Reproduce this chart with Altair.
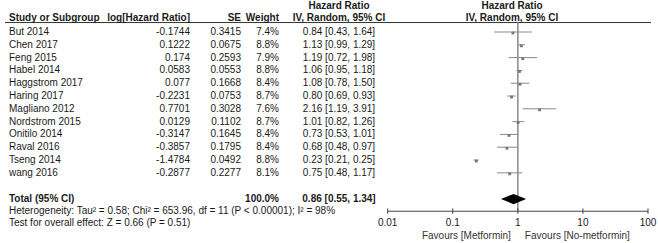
import altair as alt
import pandas as pd

studies = ["But 2014", "Chen 2017", "Feng 2015", "Habel 2014", "Haggstrom 2017",
           "Haring 2017", "Magliano 2012", "Nordstrom 2015", "Onitilo 2014",
           "Raval 2016", "Tseng 2014", "wang 2016"]
log_hr = ["-0.1744", "0.1222", "0.174", "0.0583", "0.077", "-0.2231", "0.7701",
          "0.0129", "-0.3147", "-0.3857", "-1.4784", "-0.2877"]
se = ["0.3415", "0.0675", "0.2593", "0.0553", "0.1668", "0.0753", "0.3028",
      "0.1102", "0.1645", "0.1795", "0.0492", "0.2277"]
weight = ["7.4%", "8.8%", "7.9%", "8.8%", "8.4%", "8.7%", "7.6%", "8.7%",
          "8.4%", "8.4%", "8.8%", "8.1%"]
hr = [0.84, 1.13, 1.19, 1.06, 1.08, 0.80, 2.16, 1.01, 0.73, 0.68, 0.23, 0.75]
lo = [0.43, 0.99, 0.72, 0.95, 0.78, 0.69, 1.19, 0.82, 0.53, 0.48, 0.21, 0.48]
hi = [1.64, 1.29, 1.98, 1.18, 1.50, 0.93, 3.91, 1.26, 1.01, 0.97, 0.25, 1.17]

total_hr, total_lo, total_hi = 0.86, 0.55, 1.34
total_weight = "100.0%"
het_text = "Heterogeneity: Tau² = 0.58; Chi² = 653.96, df = 11 (P < 0.00001); I² = 98%"
test_text = "Test for overall effect: Z = 0.66 (P = 0.51)"
ticks = [0.01, 0.1, 1, 10, 100]
tick_labels = ["0.01", "0.1", "1", "10", "100"]

FONT = "Liberation Sans"
FS = 10
TXT = "#1a1a1a"
GRAY = "#8a8a8a"

# row positions (row units)
rows = list(range(len(studies)))
HDR1_ROW, HDR2_ROW, LINE_ROW = -2.03, -1.09, -0.74
TOTAL_ROW, HET_ROW, TEST_ROW = 13.05, 13.98, 14.92
AXIS_ROW, LABEL_ROW, FAV_ROW = 14.0, 14.92, 15.94

xs = alt.Scale(type="log", domain=[0.01, 100], range=[387.7, 648])
ys = alt.Scale(domain=[-2.5, 16.48], range=[0, 243])

df = pd.DataFrame({
    "row": rows, "study": studies, "loghr": log_hr, "se": se, "weight": weight,
    "hr": hr, "lo": lo, "hi": hi,
    "hrtext": [f"{h:.2f} [{l:.2f}, {u:.2f}]" for h, l, u in zip(hr, lo, hi)],
})

base = alt.Chart(df)
Y = alt.Y("row:Q", scale=ys, axis=None)


def col(field, xpx, align, bold=False, data=None):
    c = alt.Chart(data) if data is not None else base
    return c.mark_text(align=align, baseline="middle", font=FONT, fontSize=FS,
                       color=TXT, fontWeight="bold" if bold else "normal").encode(
        x=alt.value(xpx), y=Y, text=f"{field}:N")


hdr_items = [
    (HDR1_ROW, "Hazard Ratio", 339, "center"),
    (HDR1_ROW, "Hazard Ratio", 512, "center"),
    (HDR2_ROW, "Study or Subgroup", 9, "left"),
    (HDR2_ROW, "log[Hazard Ratio]", 190, "right"),
    (HDR2_ROW, "SE", 241, "right"),
    (HDR2_ROW, "Weight", 279, "right"),
    (HDR2_ROW, "IV, Random, 95% CI", 339, "center"),
    (HDR2_ROW, "IV, Random, 95% CI", 512, "center"),
]
hdr_layers = [
    alt.Chart(pd.DataFrame({"row": [r], "t": [t]})).mark_text(
        align=al, baseline="middle", font=FONT, fontSize=FS, color=TXT,
        fontWeight="bold").encode(x=alt.value(xp), y=Y, text="t:N")
    for r, t, xp, al in hdr_items
]

header_line = alt.Chart(pd.DataFrame({"row": [LINE_ROW]})).mark_rule(
    color="#333333", strokeWidth=1).encode(x=alt.value(5), x2=alt.value(651), y=Y)

vline = alt.Chart(pd.DataFrame({"v": [1], "row": [LINE_ROW], "row2": [AXIS_ROW]})).mark_rule(
    color=GRAY, strokeWidth=1.5).encode(
    x=alt.X("v:Q", scale=xs, axis=None), y=Y, y2="row2:Q")

ci = base.mark_rule(color=GRAY, strokeWidth=1).encode(
    x=alt.X("lo:Q", scale=xs, axis=None), x2="hi:Q", y=Y)
sq = base.mark_square(color="#777777", size=8, opacity=1, yOffset=1).encode(
    x=alt.X("hr:Q", scale=xs, axis=None), y=Y)

dia_df = pd.DataFrame({
    "x": [total_lo, total_hr, total_hi],
    "top": [TOTAL_ROW, TOTAL_ROW - 0.4, TOTAL_ROW],
    "bot": [TOTAL_ROW, TOTAL_ROW + 0.4, TOTAL_ROW],
})
diamond = alt.Chart(dia_df).mark_area(color="black", orient="vertical", opacity=1).encode(
    x=alt.X("x:Q", scale=xs, axis=None), y=alt.Y("top:Q", scale=ys, axis=None), y2="bot:Q")

axis_line = alt.Chart(pd.DataFrame({"a": [ticks[0]], "b": [ticks[-1]], "row": [AXIS_ROW]})).mark_rule(
    color="#444444", strokeWidth=1).encode(
    x=alt.X("a:Q", scale=xs, axis=None), x2="b:Q", y=Y)
tick_df = pd.DataFrame({"t": ticks, "lab": tick_labels, "row": [AXIS_ROW - 0.22] * 5,
                        "row2": [AXIS_ROW + 0.2] * 5, "lrow": [LABEL_ROW] * 5})
tick_marks = alt.Chart(tick_df).mark_rule(color="#444444", strokeWidth=1).encode(
    x=alt.X("t:Q", scale=xs, axis=None), y=Y, y2="row2:Q")
tick_text = alt.Chart(tick_df).mark_text(font=FONT, fontSize=FS, color=TXT, baseline="middle").encode(
    x=alt.X("t:Q", scale=xs, axis=None), y=alt.Y("lrow:Q", scale=ys, axis=None), text="lab:N")

fav_df = pd.DataFrame({"v": [1, 1], "row": [FAV_ROW] * 2,
                       "t": ["Favours [Metformin]", "Favours [No-metformin]"]})
fav_l = alt.Chart(fav_df.iloc[[0]]).mark_text(font=FONT, fontSize=FS, color="#333333",
                                              align="right", dx=-7, baseline="middle").encode(
    x=alt.X("v:Q", scale=xs, axis=None), y=Y, text="t:N")
fav_r = alt.Chart(fav_df.iloc[[1]]).mark_text(font=FONT, fontSize=FS, color="#333333",
                                              align="left", dx=7, baseline="middle").encode(
    x=alt.X("v:Q", scale=xs, axis=None), y=Y, text="t:N")

tot_df = pd.DataFrame({"row": [TOTAL_ROW], "study": ["Total (95% CI)"], "weight": [total_weight],
                       "hrtext": [f"{total_hr:.2f} [{total_lo:.2f}, {total_hi:.2f}]"]})
foot_df = pd.DataFrame({"row": [HET_ROW, TEST_ROW], "t": [het_text, test_text]})

layers = [header_line, vline, ci, sq, diamond, axis_line, tick_marks, tick_text, fav_l, fav_r,
          col("study", 9, "left"), col("loghr", 190, "right"), col("se", 241, "right"),
          col("weight", 279, "right"), col("hrtext", 339, "center"),
          col("study", 9, "left", True, tot_df), col("weight", 279, "right", True, tot_df),
          col("hrtext", 339, "center", True, tot_df),
          col("t", 9, "left", False, foot_df)] + hdr_layers

chart = alt.layer(*layers).properties(
    width=658, height=243, padding=0, autosize=alt.AutoSizeParams(type="none"),
).configure_view(stroke=None).resolve_scale(x="shared", y="shared")

chart.save("out.html", embed_options={"renderer": "svg", "actions": False})
